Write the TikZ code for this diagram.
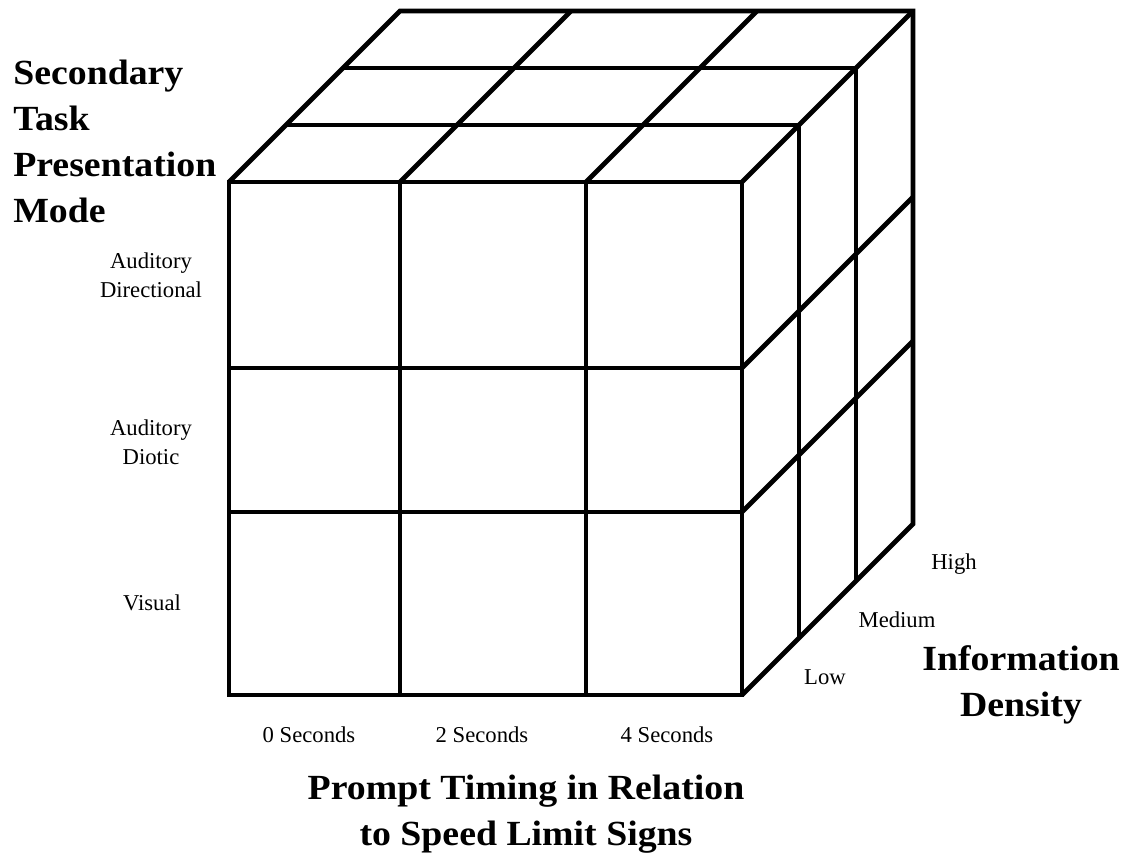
\documentclass[tikz,border=0pt]{standalone}
\usepackage{fontspec}
\setmainfont{Liberation Serif}
\newfontfamily\headfont[FakeStretch=1.07]{Liberation Serif}
\usepackage{tikz}

\begin{document}
\begin{tikzpicture}[x=0.75pt,y=-0.75pt,
    cubeline/.style={line width=3.5pt,line join=miter},
    axistitle/.style={font=\headfont\bfseries\fontsize{26.5pt}{34.5pt}\selectfont,inner sep=0pt},
    levellabel/.style={font=\fontsize{17pt}{21.5pt}\selectfont,inner sep=0pt,align=center}]
    \useasboundingbox (0,0) rectangle (1135,858);

    % front face
    \draw[cubeline] (229,182) rectangle (742,695);
    \foreach \x in {400,586}
        \draw[cubeline] (\x,182) -- (\x,695);
    \foreach \y in {368,512}
        \draw[cubeline] (229,\y) -- (742,\y);

    % top face
    \draw[cubeline] (229,182) -- (400,11) -- (913,11) -- (913,524) -- (742,695);
    \foreach \d in {57,114}
        \draw[cubeline] (229+\d,182-\d) -- (742+\d,182-\d);
    \foreach \x in {400,586,742}
        \draw[cubeline] (\x,182) -- (\x+171,11);

    % right face
    \foreach \d in {57,114}
        \draw[cubeline] (742+\d,182-\d) -- (742+\d,695-\d);
    \foreach \y in {368,512}
        \draw[cubeline] (742,\y) -- (913,\y-171);

    % rows: presentation mode (base = last line)
    \node[axistitle,align=left,anchor=base west] (modeTitle) at (13,222)
        {Secondary\\Task\\Presentation\\Mode};
    \node[levellabel,anchor=base] (dirLabel) at (151,297) {Auditory\\Directional};
    \node[levellabel,anchor=base] (dioticLabel) at (151,464) {Auditory\\Diotic};
    \node[levellabel,anchor=base] (visualLabel) at (152,610) {Visual};

    % columns: prompt timing
    \node[levellabel,anchor=base] (sec0) at (309,742) {0 Seconds};
    \node[levellabel,anchor=base] (sec2) at (482,742) {2 Seconds};
    \node[levellabel,anchor=base] (sec4) at (667,742) {4 Seconds};
    \node[axistitle,align=center,anchor=base] (timingTitle) at (526,845)
        {Prompt Timing in Relation\\to Speed Limit Signs};

    % depth: information density
    \node[levellabel,anchor=base] (lowLabel) at (825,684) {Low};
    \node[levellabel,anchor=base] (mediumLabel) at (897,627) {Medium};
    \node[levellabel,anchor=base] (highLabel) at (954,569) {High};
    \node[axistitle,align=center,anchor=base] (densityTitle) at (1021,716)
        {Information\\Density};
\end{tikzpicture}
\end{document}
